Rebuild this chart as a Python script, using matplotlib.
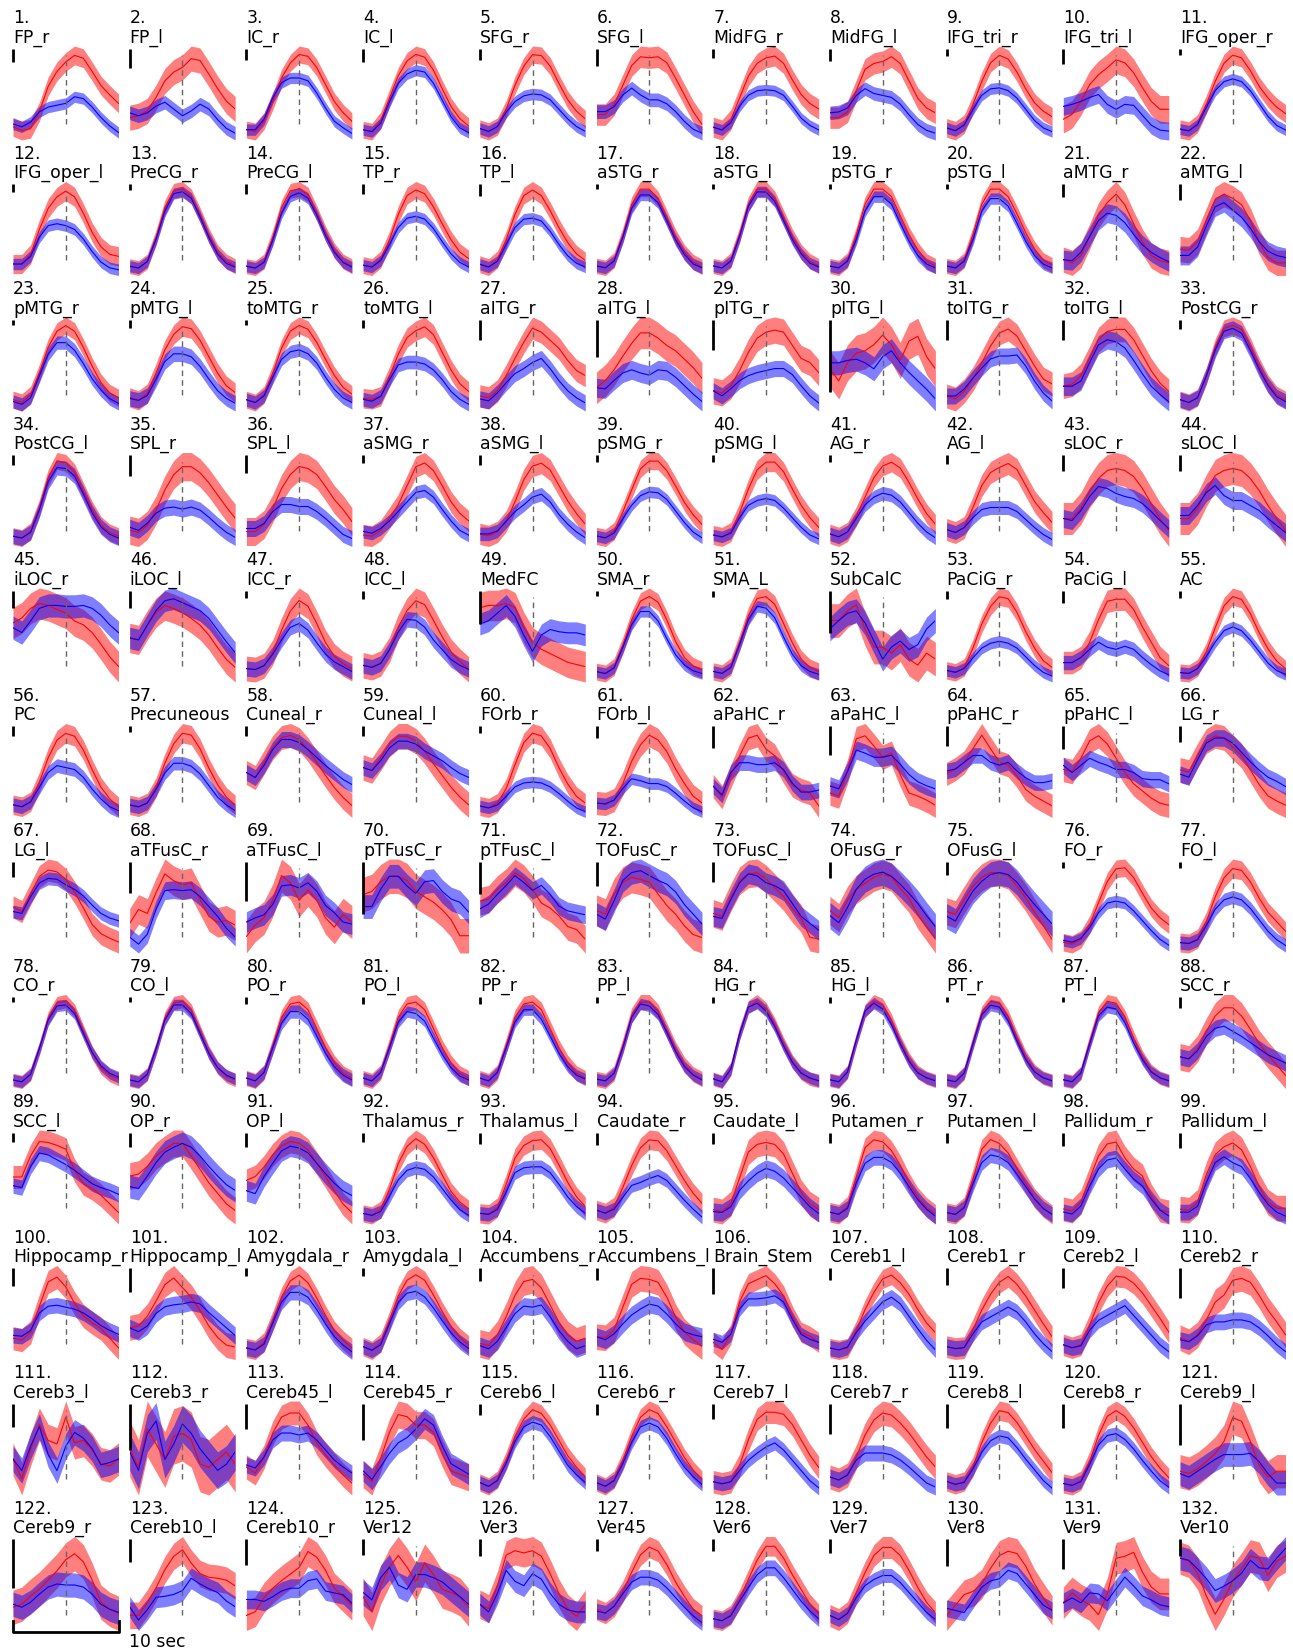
import numpy as np
import matplotlib.pyplot as plt

names = ['FP_r', 'FP_l', 'IC_r', 'IC_l', 'SFG_r', 'SFG_l', 'MidFG_r', 'MidFG_l', 'IFG_tri_r', 'IFG_tri_l',
         'IFG_oper_r', 'IFG_oper_l', 'PreCG_r', 'PreCG_l', 'TP_r', 'TP_l', 'aSTG_r', 'aSTG_l', 'pSTG_r', 'pSTG_l',
         'aMTG_r', 'aMTG_l', 'pMTG_r', 'pMTG_l', 'toMTG_r', 'toMTG_l', 'aITG_r', 'aITG_l', 'pITG_r', 'pITG_l',
         'toITG_r', 'toITG_l', 'PostCG_r', 'PostCG_l', 'SPL_r', 'SPL_l', 'aSMG_r', 'aSMG_l', 'pSMG_r', 'pSMG_l',
         'AG_r', 'AG_l', 'sLOC_r', 'sLOC_l', 'iLOC_r', 'iLOC_l', 'ICC_r', 'ICC_l', 'MedFC', 'SMA_r',
         'SMA_L', 'SubCalC', 'PaCiG_r', 'PaCiG_l', 'AC', 'PC', 'Precuneous', 'Cuneal_r', 'Cuneal_l', 'FOrb_r',
         'FOrb_l', 'aPaHC_r', 'aPaHC_l', 'pPaHC_r', 'pPaHC_l', 'LG_r', 'LG_l', 'aTFusC_r', 'aTFusC_l', 'pTFusC_r',
         'pTFusC_l', 'TOFusC_r', 'TOFusC_l', 'OFusG_r', 'OFusG_l', 'FO_r', 'FO_l', 'CO_r', 'CO_l', 'PO_r',
         'PO_l', 'PP_r', 'PP_l', 'HG_r', 'HG_l', 'PT_r', 'PT_l', 'SCC_r', 'SCC_l', 'OP_r',
         'OP_l', 'Thalamus_r', 'Thalamus_l', 'Caudate_r', 'Caudate_l', 'Putamen_r', 'Putamen_l', 'Pallidum_r',
         'Pallidum_l', 'Hippocamp_r', 'Hippocamp_l', 'Amygdala_r', 'Amygdala_l', 'Accumbens_r', 'Accumbens_l',
         'Brain_Stem', 'Cereb1_l', 'Cereb1_r', 'Cereb2_l', 'Cereb2_r', 'Cereb3_l', 'Cereb3_r', 'Cereb45_l',
         'Cereb45_r', 'Cereb6_l', 'Cereb6_r', 'Cereb7_l', 'Cereb7_r', 'Cereb8_l', 'Cereb8_r', 'Cereb9_l',
         'Cereb9_r', 'Cereb10_l', 'Cereb10_r', 'Ver12', 'Ver3', 'Ver45', 'Ver6', 'Ver7', 'Ver8', 'Ver9', 'Ver10']

# mean responses, 13 samples over 10 s (panel-relative units)
red_mean = [
    [11,7,9,27,54,70,80,87,84,70,55,45,36], [23,25,30,44,61,70,75,84,82,68,53,40,32],
    [9,7,18,39,64,80,89,87,75,57,39,27,18], [8,6,18,42,66,82,89,86,72,52,33,20,12],
    [10,7,12,30,55,75,87,86,75,57,40,28,20], [25,25,35,55,75,84,83,84,78,62,45,28,15],
    [10,7,18,42,66,80,86,88,80,62,46,36,30], [22,22,28,50,72,78,80,85,78,60,42,32,27],
    [10,7,14,35,60,80,88,84,70,52,37,28,22], [20,25,38,55,65,72,80,77,67,52,38,30,30],
    [8,6,14,35,60,80,89,86,72,55,42,32,25], [12,12,22,48,70,82,88,82,65,45,30,22,20],
    [7,5,12,38,70,88,90,82,62,40,22,12,7], [7,5,12,38,70,88,90,84,64,42,24,12,7],
    [8,6,14,35,62,82,88,84,70,52,35,22,15], [9,6,14,35,62,82,88,82,66,48,32,20,13],
    [8,6,14,40,72,88,88,78,58,38,22,12,7], [7,5,13,40,72,88,88,78,58,38,22,12,7],
    [7,5,13,40,72,88,88,80,60,40,24,12,7], [7,5,13,40,72,88,88,80,62,42,25,13,8],
    [18,15,22,40,60,72,80,70,52,35,22,17,15], [28,27,35,55,75,80,76,70,55,35,20,15,15],
    [10,7,15,38,65,82,88,82,65,45,28,17,12], [13,10,17,38,62,78,86,84,72,55,38,25,18],
    [9,6,14,37,64,82,88,84,70,52,35,22,15], [13,12,15,35,58,75,82,86,78,60,42,28,20],
    [15,13,20,35,52,68,82,78,70,62,50,40,35], [28,35,45,58,70,80,80,75,68,63,55,47,37],
    [20,18,25,40,58,72,78,80,78,65,52,48,38], [35,25,40,48,50,55,63,55,42,58,62,45,35],
    [15,12,20,32,48,65,78,82,75,60,45,32,27], [25,27,35,52,70,78,80,80,70,55,40,28,20],
    [10,7,12,35,65,85,88,84,66,45,27,15,10], [10,8,15,40,72,90,88,78,58,38,22,14,10],
    [15,13,20,35,55,70,78,78,72,62,50,38,27], [15,15,22,38,58,72,80,78,72,60,47,37,25],
    [10,9,15,28,42,62,82,86,78,62,45,33,25], [12,10,14,25,45,68,82,85,78,62,46,33,22],
    [10,8,15,35,58,80,88,88,78,62,45,32,22], [12,10,15,35,60,80,88,88,78,60,43,30,20],
    [12,9,14,30,50,70,82,86,80,65,48,33,22], [18,15,20,40,62,75,80,84,78,62,46,35,25],
    [30,30,40,57,70,78,80,78,72,60,45,30,18], [32,32,42,60,75,80,82,80,72,60,45,32,20],
    [60,65,75,80,78,74,70,62,58,50,38,25,15], [42,40,55,68,75,72,68,62,55,45,32,20,12],
    [15,14,18,32,55,75,86,80,62,42,28,20,15], [16,14,18,32,55,72,82,78,62,45,30,20,12],
    [70,72,72,74,70,52,38,32,28,24,20,18,16], [10,8,15,38,65,85,90,84,65,42,25,16,12],
    [10,8,15,40,68,86,88,80,60,40,23,14,10], [62,62,70,75,55,40,40,35,42,30,25,35,30],
    [12,10,15,35,60,78,88,86,72,52,35,22,15], [20,20,25,40,62,80,82,82,72,55,40,25,17],
    [8,7,13,30,55,78,88,85,70,50,33,20,12], [12,10,15,35,60,78,85,82,68,48,30,18,10],
    [12,10,14,30,55,75,86,84,70,50,33,20,12], [45,40,55,70,80,82,78,68,55,42,30,20,12],
    [48,45,58,72,80,80,75,65,52,40,28,18,10], [12,10,15,30,55,78,88,85,72,52,35,22,15],
    [15,14,18,35,58,75,85,80,68,50,35,22,15], [32,21,42,63,81,84,70,63,47,33,28,25,12],
    [28,25,49,81,84,74,63,67,46,28,25,21,16], [44,49,56,70,84,70,56,53,42,28,21,16,11],
    [49,47,60,77,82,74,60,46,35,28,21,16,14], [46,44,60,74,79,77,68,60,46,32,21,16,12],
    [48,43,62,81,88,86,78,64,47,29,19,14,10], [33,47,43,64,83,76,72,74,57,40,34,36,31],
    [22,33,40,57,81,74,57,67,57,40,31,43,36], [59,62,71,76,76,72,62,57,52,45,36,21,21],
    [55,57,67,74,84,78,67,53,48,40,29,26,16], [47,43,64,76,81,79,76,64,52,43,31,22,19],
    [43,40,59,76,83,84,78,69,60,48,38,19,17], [45,38,55,66,72,78,81,78,67,57,41,29,17],
    [41,38,53,67,76,81,81,78,67,55,40,26,12], [10,8,13,28,50,72,85,86,76,60,45,35,28],
    [10,9,14,32,58,78,88,86,74,57,42,32,22], [7,5,13,40,72,88,90,80,58,36,20,12,8],
    [7,5,13,40,72,88,90,80,58,36,20,11,7], [8,5,14,42,72,86,88,80,60,40,24,13,8],
    [8,5,14,42,72,86,88,80,60,40,24,13,8], [8,5,14,42,72,86,88,80,60,40,24,13,8],
    [7,5,13,42,74,88,88,78,58,38,22,12,7], [8,5,18,55,82,88,80,64,44,26,14,8,6],
    [7,5,15,48,78,88,84,68,46,28,15,9,6], [7,5,14,46,76,88,86,72,50,30,16,9,6],
    [7,5,14,46,76,88,86,72,50,30,16,9,6], [30,28,38,55,70,78,78,70,57,43,32,22,12],
    [48,48,70,85,84,81,77,55,41,36,29,20,11], [52,54,62,73,80,86,86,73,59,45,34,23,16],
    [48,52,62,75,84,89,87,80,66,52,37,23,14], [10,8,14,35,62,80,88,82,68,50,33,22,15],
    [8,7,14,38,65,78,83,84,75,58,40,25,15], [15,12,18,38,60,78,86,85,75,60,45,32,22],
    [12,10,18,45,72,80,82,80,70,50,30,18,12], [12,10,18,48,78,86,84,75,60,42,27,17,10],
    [10,8,16,45,76,86,82,72,56,40,25,15,8], [15,13,22,45,68,80,82,66,55,48,28,14,12],
    [15,14,22,50,70,78,82,75,58,38,22,16,16], [22,20,28,55,80,85,75,58,45,38,32,22,12],
    [30,32,42,58,75,82,72,62,48,32,20,12,10], [12,10,18,40,65,82,88,80,64,46,30,20,12],
    [10,6,14,38,65,82,88,82,66,48,32,20,12], [20,18,28,45,65,78,80,72,56,40,28,22,25],
    [25,24,32,55,78,84,83,80,65,45,30,22,15], [22,15,30,62,80,84,88,80,68,48,32,28,22],
    [12,10,12,30,52,70,84,88,80,68,52,38,28], [15,13,14,32,52,68,80,86,78,66,52,38,25],
    [15,12,15,35,58,75,85,84,78,68,55,42,28], [22,18,25,40,58,65,80,82,78,65,50,38,25],
    [42,25,50,72,58,55,78,56,58,50,38,36,42], [52,40,65,55,45,60,62,58,42,40,45,50,42],
    [28,22,38,62,78,82,82,70,52,40,30,20,12], [25,18,40,65,82,80,72,72,65,45,28,25,22],
    [12,8,15,35,60,78,88,84,72,56,40,28,18], [12,8,15,35,60,80,88,84,70,54,38,25,15],
    [14,12,14,30,55,75,82,82,80,70,55,40,28], [18,15,20,38,60,75,82,80,72,62,50,38,28],
    [15,12,15,30,55,75,88,86,76,62,48,36,24], [12,10,15,35,62,82,88,82,70,55,40,28,18],
    [30,28,32,38,45,55,75,72,55,35,25,30,30], [22,25,33,40,49,58,69,75,67,49,27,20,16],
    [16,16,29,45,64,78,85,71,60,56,55,53,47], [16,20,35,45,53,60,67,84,78,64,45,36,27],
    [33,19,44,61,72,61,47,65,54,40,37,33,23], [30,26,47,75,79,77,79,74,58,40,26,19,30],
    [22,18,25,40,60,78,86,82,68,50,35,22,15], [10,8,14,30,50,70,84,84,72,55,40,25,15],
    [12,8,15,35,55,72,80,80,72,57,40,25,15], [15,25,35,38,45,60,72,76,74,62,45,32,20],
    [30,40,33,28,18,39,75,77,81,61,46,39,39], [77,74,63,42,25,39,56,67,79,77,61,74,79],
]
red_err = [10,13,9,9,9,11,11,11,10,14, 10,10,8,8,9,9,8,8,8,8, 12,12,9,10,9,10,11,15,13,15,
           12,12,9,9,14,14,11,11,9,10, 10,11,16,16,16,15,13,13,14,9, 9,14,9,11,9,10,10,12,13,10,
           12,12,12,12,12,12,12,15,16,16, 14,16,14,14,14,9,10,7,7,8, 8,8,8,7,7,7,7,13,12,14,
           12,9,10,10,13,10,10,12,13,12, 13,10,10,13,13,10,10,11,11,13, 14,18,12,13,9,9,11,12,10,10,
           14,17,14,16,18,13,11,10,11,14, 16,15]

blue_mean = [
    [14,11,16,27,32,34,36,43,41,32,21,12,5], [28,25,28,35,39,32,25,30,37,32,21,12,7],
    [9,9,20,43,59,64,64,61,48,32,18,11,5], [8,6,15,38,58,68,72,70,58,40,22,10,5],
    [10,7,12,27,38,44,46,45,40,30,20,12,7], [28,28,33,45,52,45,40,40,36,28,18,10,6],
    [10,7,15,33,45,50,51,50,45,33,20,12,7], [27,28,32,45,52,47,45,43,36,25,15,9,6],
    [10,7,13,30,45,52,53,50,42,30,18,10,6], [33,35,38,42,45,35,30,35,34,24,14,9,8],
    [8,6,13,32,50,60,63,60,50,36,22,12,7], [12,12,20,40,52,54,52,48,38,25,14,8,6],
    [7,5,12,36,66,85,87,80,60,38,20,10,6], [7,5,11,35,64,82,86,80,62,40,22,11,6],
    [8,6,13,30,48,58,60,57,47,33,20,11,6], [9,6,12,30,48,57,58,55,44,30,18,10,6],
    [8,6,13,38,68,82,82,74,55,35,20,10,6], [7,5,12,38,70,85,85,75,55,35,20,10,6],
    [7,5,12,35,65,80,80,72,52,33,18,9,5], [7,5,12,35,65,78,78,70,52,33,18,9,5],
    [18,17,25,40,55,62,60,53,42,32,25,20,16], [22,22,30,50,68,72,65,58,48,35,26,22,20],
    [8,5,12,35,58,70,70,62,48,32,20,11,6], [12,10,15,32,50,58,58,55,45,32,20,12,7],
    [9,6,13,33,52,60,62,58,48,33,20,11,6], [12,10,15,32,47,50,50,48,42,32,20,12,7],
    [12,10,18,28,37,42,48,52,42,30,20,13,8], [28,27,35,42,45,42,40,45,44,38,30,22,15],
    [20,15,22,30,35,38,40,42,42,36,25,15,8], [40,40,42,43,40,35,45,50,40,32,25,18,10],
    [15,15,22,33,43,52,55,55,56,45,30,18,10], [25,25,30,48,65,70,68,62,50,37,25,17,10],
    [10,7,12,35,62,82,85,80,62,42,25,13,8], [10,8,14,38,68,83,82,74,55,35,20,12,8],
    [18,15,22,32,37,38,36,38,35,28,20,13,8], [18,18,23,35,42,42,40,40,35,28,20,12,8],
    [14,12,17,25,35,45,55,57,50,37,25,15,10], [12,12,15,25,35,42,50,53,45,32,22,14,8],
    [10,8,13,28,42,52,56,55,48,36,24,14,8], [12,10,14,30,43,48,50,48,40,30,20,12,8],
    [12,9,14,28,42,50,54,52,45,34,23,14,8], [18,15,20,30,38,40,40,40,36,28,20,13,8],
    [30,28,38,52,62,60,55,52,50,45,37,28,20], [35,35,45,58,65,55,50,50,45,40,32,25,18],
    [55,50,62,75,78,78,77,77,78,75,68,58,50], [42,40,55,70,80,82,78,74,70,62,50,38,27],
    [15,14,18,30,45,58,62,55,42,30,22,17,12], [16,14,18,32,50,63,62,55,42,32,22,16,12],
    [55,58,65,72,62,45,30,45,50,48,47,47,45], [10,8,14,36,60,74,74,64,45,28,17,11,8],
    [10,8,14,38,64,78,76,66,46,28,16,10,7], [55,62,68,70,60,45,30,40,45,38,42,55,62],
    [12,10,14,25,35,40,42,40,35,26,17,10,6], [20,20,25,33,40,35,33,36,33,25,18,12,8],
    [8,7,12,25,40,52,56,52,42,30,18,10,6], [12,10,15,30,45,52,50,48,40,28,18,10,6],
    [12,10,14,28,45,55,55,52,44,32,20,12,6], [45,40,52,68,78,78,75,68,60,52,45,38,33],
    [48,45,55,68,75,75,72,65,60,55,48,42,38], [12,10,13,22,32,36,37,36,32,25,17,10,6],
    [15,14,18,30,40,38,35,35,32,25,17,10,6], [32,23,46,56,56,54,54,56,49,35,26,26,28],
    [35,32,49,70,67,63,63,65,56,46,39,35,32], [47,49,56,63,63,56,53,56,47,40,35,35,37],
    [53,46,53,60,56,53,49,49,46,40,39,39,35], [42,39,56,72,77,77,72,63,54,46,39,35,30],
    [43,41,59,74,79,78,72,67,60,50,41,36,33], [19,12,22,47,66,67,66,67,60,50,40,28,19],
    [36,40,43,53,71,72,69,74,66,52,45,36,34], [48,48,64,76,76,67,60,71,72,62,55,52,43],
    [47,52,62,71,81,74,66,71,62,50,45,43,41], [43,38,57,78,86,88,83,78,74,66,53,43,33],
    [40,38,57,74,83,81,74,71,66,53,40,33,26], [40,33,48,66,76,81,83,79,71,62,52,40,29],
    [36,31,47,62,72,79,81,79,71,59,48,38,28], [12,10,14,25,40,50,52,50,42,32,22,13,7],
    [10,9,13,28,45,55,58,55,46,34,22,13,7], [7,5,13,40,70,85,86,77,56,36,22,14,10],
    [7,5,13,40,70,86,86,77,56,35,20,12,8], [8,5,14,40,66,78,78,70,52,34,20,11,6],
    [8,5,14,40,67,78,76,68,50,33,19,10,6], [8,5,14,40,67,80,80,70,52,34,20,11,7],
    [7,5,13,40,72,86,84,75,56,36,20,11,6], [8,5,18,54,82,86,78,62,42,25,14,9,6],
    [7,5,15,48,78,86,80,64,44,26,14,9,6], [7,5,14,44,74,84,82,68,47,28,15,9,6],
    [7,5,14,44,73,82,80,66,45,28,15,9,6], [30,28,36,50,58,60,55,50,44,38,32,28,24],
    [39,37,59,73,71,66,61,55,48,41,37,34,30], [41,39,52,66,77,82,86,82,73,62,52,43,37],
    [37,34,52,66,79,84,82,77,66,55,45,37,32], [10,8,12,28,45,55,58,56,48,36,24,14,8],
    [8,7,12,30,50,55,56,56,50,38,25,15,8], [15,12,16,28,40,43,47,50,45,35,25,16,8],
    [10,9,15,32,42,50,55,52,45,35,25,15,8], [12,10,16,42,62,68,68,63,52,38,25,15,8],
    [10,8,15,40,62,70,68,62,50,37,24,14,8], [12,10,18,38,55,64,66,55,45,38,25,14,8],
    [12,12,18,42,62,68,62,58,46,32,20,12,8], [25,24,30,48,55,56,54,52,48,42,35,30,26],
    [30,26,32,45,52,54,55,57,55,46,38,30,22], [12,10,16,38,60,70,70,65,52,37,24,15,8],
    [10,6,12,35,58,68,70,64,52,38,25,15,8], [18,15,22,35,48,55,54,56,45,32,22,15,18],
    [25,22,28,38,47,53,58,56,48,38,30,27,25], [25,22,30,55,65,65,66,68,62,45,30,25,22],
    [12,10,13,28,40,50,60,65,58,45,32,20,10], [15,13,14,28,40,45,50,55,50,40,28,18,10],
    [15,12,14,30,40,45,50,55,45,35,25,15,8], [20,18,24,35,38,38,40,40,38,32,24,15,8],
    [42,32,53,70,46,32,53,65,60,51,37,39,42], [50,38,62,70,45,55,68,62,52,45,38,42,50],
    [30,27,38,55,62,62,60,62,55,45,35,28,22], [28,20,32,45,55,60,68,78,72,52,35,30,25],
    [12,8,14,32,55,70,75,72,60,45,30,20,12], [12,8,14,32,54,70,74,70,58,42,28,18,10],
    [14,12,14,25,35,42,48,52,45,35,25,15,8], [18,15,20,35,42,42,42,40,35,28,20,12,8],
    [15,12,14,28,45,57,62,60,50,38,27,16,8], [12,10,14,32,52,62,64,58,48,36,25,15,8],
    [28,25,30,35,40,44,44,44,45,38,28,20,20], [25,22,27,35,42,45,44,44,42,35,25,20,17],
    [25,11,22,35,36,38,42,55,49,44,40,31,25], [33,33,31,36,42,45,45,53,55,42,40,38,29],
    [37,30,51,61,44,40,54,54,51,47,40,33,26], [30,23,40,61,51,47,58,53,40,30,25,23,23],
    [20,18,25,38,50,55,55,52,44,34,24,15,8], [10,8,13,28,42,55,62,62,52,40,28,18,10],
    [12,8,14,30,42,48,52,52,45,35,25,15,8], [22,20,18,30,42,48,50,58,55,45,35,25,20],
    [30,35,30,40,39,32,44,56,47,37,33,28,26], [77,75,67,58,47,51,56,63,75,68,67,77,86],
]
blue_err = [6,7,6,6,6,7,6,7,6,9, 6,6,6,6,6,6,6,6,6,6, 9,9,7,8,7,7,8,9,8,10,
            8,9,8,8,8,8,7,7,6,6, 7,7,9,9,12,11,8,8,10,6, 6,10,6,7,6,7,7,8,8,6,
            6,8,9,8,8,8,7,9,10,11, 9,12,10,13,13,6,7,6,6,7, 6,6,6,6,6,6,6,8,8,12,
            11,7,7,7,9,8,8,8,8,8, 9,8,8,8,9,7,8,8,8,8, 11,12,8,10,7,7,7,8,7,7,
            10,12,11,10,12,10,8,8,7,8, 10,11]

# vertical scale bar length per panel (same units as the curves)
bar_len = [14,20,12,14,12,18,10,13,8,15, 7,8,6,10,10,12,5,5,5,5, 12,15,5,8,6,8,20,35,30,60,
           20,20,10,10,20,18,8,10,7,7, 7,9,16,16,18,18,8,8,30,6, 6,35,8,12,8,10,6,10,10,7,
           12,22,28,20,22,15,17,32,38,48, 33,25,20,16,14,6,6,5,5,7, 7,7,6,6,6,5,5,10,10,15,
           15,10,12,12,12,10,11,13,15,18, 25,8,8,12,12,25,12,17,20,30, 20,30,25,35,12,12,15,30,25,25,
           35,48,24,27,15,15,12,12,14,25, 30,15]

t = np.linspace(0, 10, 13)  # sec

W, H = 1293, 1649
fig = plt.figure(figsize=(W / 100, H / 100), dpi=100)

for i, name in enumerate(names):
    r, c = divmod(i, 11)
    x0 = 13 + 116.7 * c
    y0 = 47 + 135.5 * r
    ax = fig.add_axes([x0 / W, 1 - (y0 + 94) / H, 105.5 / W, 94 / H])
    rm = np.array(red_mean[i], dtype=float)
    bm = np.array(blue_mean[i], dtype=float)
    ax.fill_between(t, rm - red_err[i], rm + red_err[i], color='red', alpha=0.5, lw=0)
    ax.fill_between(t, bm - blue_err[i], bm + blue_err[i], color='blue', alpha=0.5, lw=0)
    ax.plot(t, rm, color='red', lw=0.8)
    ax.plot(t, bm, color='blue', lw=0.8)
    lo = min(rm.min() - red_err[i], bm.min() - blue_err[i])
    hi = max(rm.max() + red_err[i], bm.max() + blue_err[i])
    ax.set_xlim(0, 10)
    ax.set_ylim(lo, hi)
    ax.axvline(5, ymin=0.17, ymax=0.9, color='0.4', ls=(0, (4, 3)), lw=1)
    top = hi - 0.03 * (hi - lo)
    ax.plot([0, 0], [top, top - bar_len[i]], color='k', lw=2, clip_on=False, solid_capstyle='butt')
    ax.text(0, 1.0, f'{i + 1}.\n{name}', transform=ax.transAxes, ha='left', va='bottom',
            fontsize=12.4, linespacing=1.12)
    ax.axis('off')
    if i == 121:
        # 10 sec time scale under panel 122
        ax.plot([0, 0, 10, 10], [0.1, -0.015, -0.015, 0.1], transform=ax.get_xaxis_transform(),
                color='k', lw=2, clip_on=False)

fig.text(129 / W, 2 / H, '10 sec', fontsize=12.4, va='baseline', ha='left')

fig.savefig('out.png', dpi=100)
